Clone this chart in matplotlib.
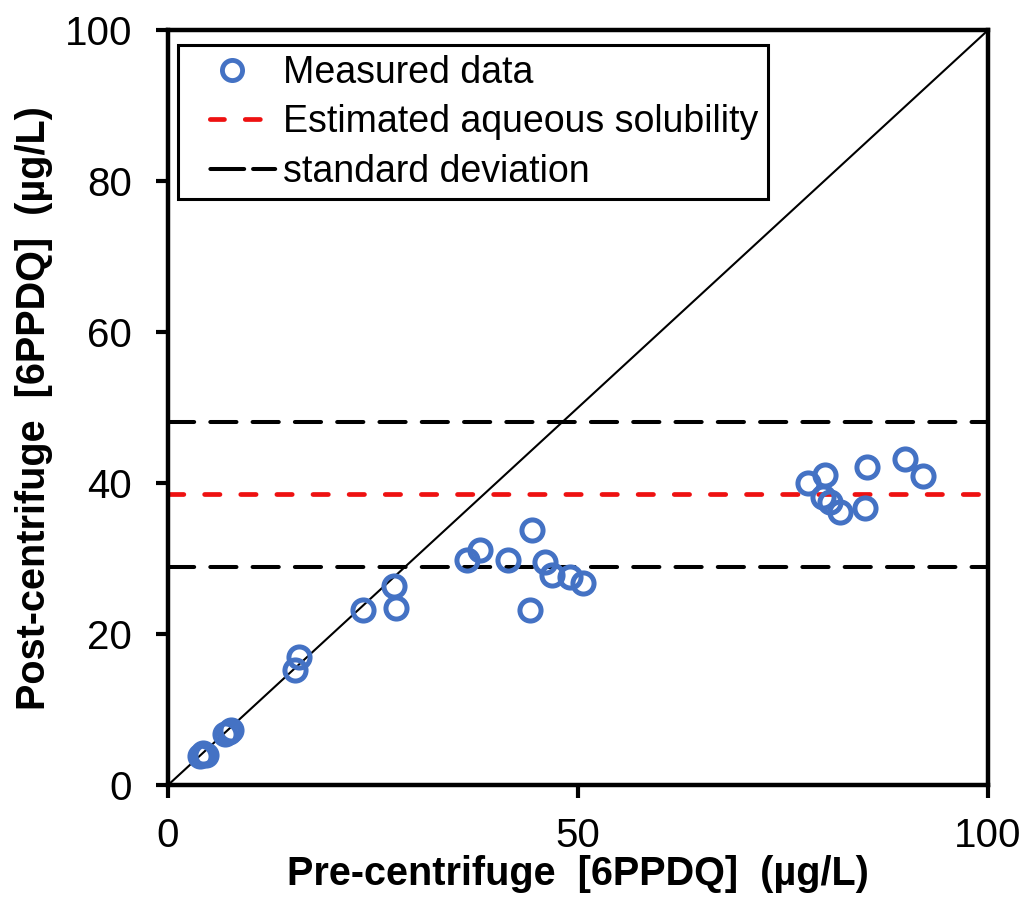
import matplotlib.pyplot as plt
from matplotlib.lines import Line2D
from matplotlib.legend_handler import HandlerLine2D

plt.rcParams['font.family'] = ['Liberation Sans', 'DejaVu Sans']

# measured data (pre-centrifuge vs post-centrifuge, ug/L)
pre = [3.9, 4.3, 4.6, 7.0, 7.4, 7.7, 15.5, 16.0, 23.8, 27.6, 27.8,
       36.5, 38.0, 41.5, 44.4, 44.1, 46.0, 46.8, 49.0, 50.6,
       78.0, 80.1, 79.9, 80.7, 82.0, 85.0, 85.2, 89.9, 92.1]
post = [3.8, 4.2, 4.0, 6.7, 7.0, 7.3, 15.3, 17.0, 23.2, 26.4, 23.4,
        29.8, 31.1, 29.8, 33.8, 23.2, 29.5, 27.8, 27.6, 26.8,
        40.0, 41.1, 38.1, 37.5, 36.2, 36.7, 42.1, 43.2, 41.0]

solubility = 38.5
sd_low, sd_high = 28.9, 48.1

red = '#ee1111'
blue = '#4472C4'


class ShiftedMarker(HandlerLine2D):
    # marker sits a bit right of the handle centre, like in the original
    def get_xdata(self, legend, xdescent, ydescent, width, height, fontsize):
        xd, xm = super().get_xdata(legend, xdescent, ydescent, width, height, fontsize)
        return xd, [x + width * 0.125 for x in xm]


fig = plt.figure(figsize=(10.27, 9.15), dpi=100)
ax = fig.add_axes([0.1636, 0.142, 0.7984, 0.825])

ax.plot([0, 100], [0, 100], color='black', lw=1.5, zorder=1)
for yv in (sd_high, sd_low):
    ax.axhline(yv, color='black', lw=2.9, ls=(0, (6.5, 4.0)),
               dash_capstyle='round', zorder=2)
ax.axhline(solubility, color=red, lw=3.4, ls=(0, (3.25, 4.4)),
           dash_capstyle='round', zorder=2)
ax.plot(pre, post, 'o', mfc='none', mec=blue, mew=3.6, ms=15.2, zorder=3)

ax.set_xlim(0, 100)
ax.set_ylim(0, 100)
ax.set_xticks([0, 50, 100])
ax.set_yticks([0, 20, 40, 60, 80, 100])
ax.tick_params(direction='out', length=9, width=3, labelsize=29)
ax.tick_params(axis='y', pad=17)
ax.tick_params(axis='x', pad=14)
for s in ax.spines.values():
    s.set_linewidth(3.2)

ax.set_xlabel('Pre-centrifuge  [6PPDQ]  (µg/L)', fontsize=28.5, fontweight='bold', labelpad=0)
ax.set_ylabel('Post-centrifuge  [6PPDQ]  (µg/L)', fontsize=28.5, fontweight='bold', labelpad=8)

# legend handles: leading gap built into the dash pattern
h_meas = Line2D([], [], ls='none', marker='o', mfc='none', mec=blue, mew=3.5, ms=14.5)
h_sol = Line2D([], [], color=red, lw=3.4, dash_capstyle='round',
               ls=(10.6, (3.0, 4.4, 3.2, 4.83)))
h_sd = Line2D([], [], color='black', lw=2.9, dash_capstyle='round',
              ls=(16.1, (8.4, 2.2, 5.5, 5.8)))
labels = ['Measured data', 'Estimated aqueous solubility', 'standard deviation']
leg = ax.legend([h_meas, h_sol, h_sd], labels, loc='upper left',
                bbox_to_anchor=(0.0122, 0.980),
                handler_map={h_meas: ShiftedMarker()},
                fontsize=27, frameon=True, fancybox=False, edgecolor='black',
                framealpha=1, handlelength=2.4, handletextpad=0.15,
                borderpad=0.25, labelspacing=0.36, borderaxespad=0)
leg.get_frame().set_linewidth(2.2)

plt.savefig('out.png', dpi=100)
